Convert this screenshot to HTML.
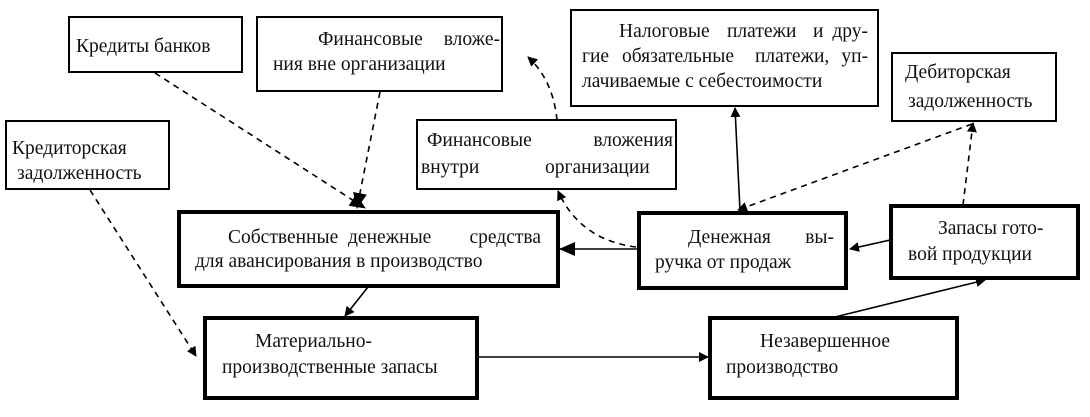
<!DOCTYPE html>
<html><head><meta charset="utf-8"><style>
html,body{margin:0;padding:0;background:#fff;}
svg{display:block}
text{font-family:"Liberation Serif",serif;font-size:19.5px;fill:#111}
.e{text-anchor:end}
</style></head><body>
<svg width="1090" height="417" viewBox="0 0 1090 417" xmlns="http://www.w3.org/2000/svg">
<defs>
<marker id="a" markerWidth="10" markerHeight="10" refX="9" refY="5" orient="auto" markerUnits="userSpaceOnUse"><path d="M0,0 L10,5 L0,10 z" fill="#000"/></marker>
<marker id="b" markerWidth="16" markerHeight="14" refX="15" refY="7" orient="auto" markerUnits="userSpaceOnUse"><path d="M0,0 L16,7 L0,14 z" fill="#000"/></marker>
</defs>
<g fill="none" stroke="#000">
<rect x="69" y="17" width="173" height="55" stroke-width="2"/>
<rect x="257" y="17" width="245" height="74" stroke-width="2"/>
<rect x="6" y="121" width="163" height="68" stroke-width="2"/>
<rect x="417" y="120" width="259" height="69" stroke-width="2"/>
<rect x="571" y="10" width="307" height="96" stroke-width="2"/>
<rect x="892" y="53" width="164" height="68" stroke-width="2"/>
<rect x="179" y="212" width="379" height="74" stroke-width="4"/>
<rect x="639" y="213" width="207" height="75" stroke-width="4"/>
<rect x="891" y="206" width="187" height="72" stroke-width="4"/>
<rect x="205" y="318" width="272" height="80" stroke-width="4"/>
<rect x="710" y="318" width="247" height="80" stroke-width="4"/>
</g>
<g fill="none" stroke="#000" stroke-width="1.6">
<line x1="155" y1="73" x2="365" y2="208" stroke-dasharray="6,5" marker-end="url(#b)"/>
<line x1="380" y1="92" x2="357" y2="208" stroke-dasharray="6,5" marker-end="url(#b)"/>
<line x1="90" y1="190" x2="196" y2="356" stroke-dasharray="6,5" marker-end="url(#a)"/>
<path d="M557,120 Q553,80 528,57" stroke-dasharray="6,5" marker-end="url(#a)"/>
<path d="M636,247 Q580,240 558,191" stroke-dasharray="6,5" marker-end="url(#a)"/>
<line x1="637" y1="249" x2="560" y2="249" marker-end="url(#b)"/>
<line x1="740" y1="211" x2="735" y2="108" marker-end="url(#a)"/>
<line x1="972" y1="124" x2="738" y2="210" stroke-dasharray="6,5" marker-end="url(#a)"/>
<line x1="963" y1="205" x2="973" y2="123" stroke-dasharray="6,5" marker-end="url(#a)"/>
<line x1="890" y1="240" x2="850" y2="249" marker-end="url(#a)"/>
<line x1="368" y1="287" x2="345" y2="316" marker-end="url(#a)"/>
<line x1="478" y1="357" x2="708" y2="357" marker-end="url(#a)"/>
<line x1="835" y1="317" x2="985" y2="280" marker-end="url(#a)"/>
</g>
<text x="76" y="52">Кредиты банков</text>
<text x="318" y="45">Финансовые</text><text x="500" y="45" class="e">вложе-</text>
<text x="273" y="70">ния вне организации</text>
<text x="12" y="154">Кредиторская</text>
<text x="17" y="179">задолженность</text>
<text x="427" y="146">Финансовые</text><text x="673" y="146" class="e">вложения</text>
<text x="421" y="173">внутри</text>
<text x="545" y="173">организации</text>
<text x="619" y="37">Налоговые</text><text x="727" y="37">платежи</text><text x="813" y="37">и</text><text x="868" y="37" class="e">дру-</text>
<text x="582" y="62">гие</text><text x="622" y="62">обязательные</text><text x="755" y="62">платежи,</text><text x="868" y="62" class="e">уп-</text>
<text x="582" y="87">лачиваемые с себестоимости</text>
<text x="905" y="78">Дебиторская</text>
<text x="908" y="107">задолженность</text>
<text x="228" y="243">Собственные</text><text x="348" y="243">денежные</text><text x="541" y="243" class="e">средства</text>
<text x="195" y="267">для авансирования в производство</text>
<text x="688" y="243">Денежная</text><text x="834" y="243" class="e">вы-</text>
<text x="655" y="268">ручка от продаж</text>
<text x="938" y="234">Запасы гото-</text>
<text x="908" y="260">вой продукции</text>
<text x="255" y="347">Материально-</text>
<text x="222" y="373">производственные запасы</text>
<text x="760" y="347">Незавершенное</text>
<text x="726" y="373">производство</text>
</svg>
</body></html>
